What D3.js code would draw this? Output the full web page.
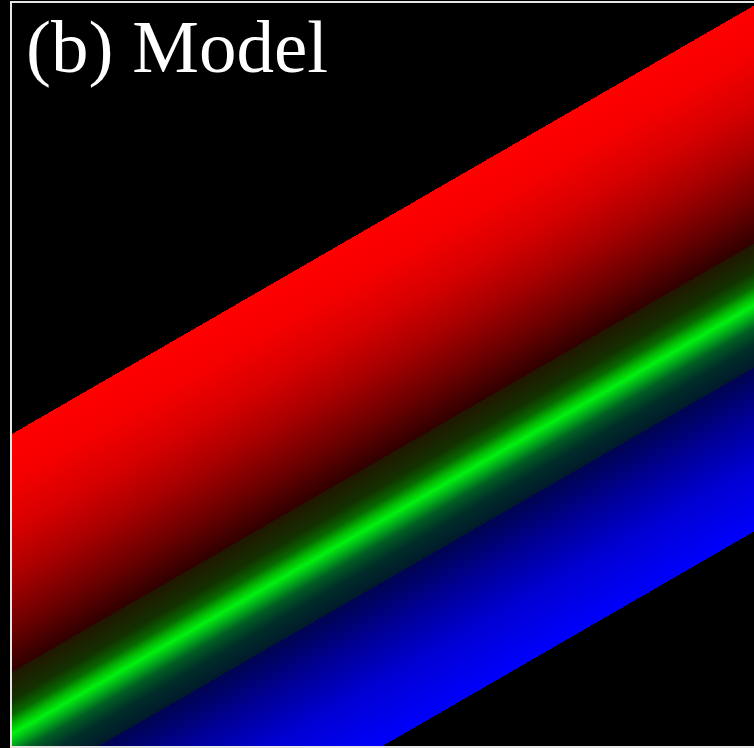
<!DOCTYPE html>
<html>
<head>
<meta charset="utf-8">
<script src="https://cdn.jsdelivr.net/npm/d3@7"></script>
<style>
  html, body { margin: 0; padding: 0; background: #000; }
  svg { display: block; }
</style>
</head>
<body>
<svg id="chart" width="754" height="748"></svg>
<script>
// Cross-band profile of the model: offset across the bands (green line = 0)
// and the red, green and blue intensity at each offset.
// Repeated offsets mark the sharp edges of a band.
const bandOffset = [-3.00, -2.54, -2.04, -1.54, -1.04, -0.62, -0.62, -0.34, -0.19, -0.09, 0.00, 0.10, 0.22, 0.40, 0.62, 0.62, 1.10, 1.60, 2.26];
const redLevel   = [  255,   245,   215,   168,   108,    48,    34,    18,     8,     3,    0,    0,    0,    0,    0,    0,    0,    0,    0];
const greenLevel = [    0,     0,     0,     0,     0,     0,    22,    50,   105,   185,  240,  175,   95,   45,   26,    4,    0,    0,    0];
const blueLevel  = [    0,     0,     0,     0,     0,     0,     0,     0,     0,     4,   15,   25,   34,   40,   44,   80,  150,  210,  252];

// Bands run at this slope (degrees above horizontal).
const bandAngle = 30;
const panelTitle = "(b) Model";

const W = 754, H = 748;
const plot = { left: 12, top: 3, right: 754, bottom: 747 };

const svg = d3.select("#chart");
const defs = svg.append("defs");

// Band offset -> vertical intercept (px) on the left edge of the plot.
const vScale = d3.scaleLinear().domain([-3.00, 2.26]).range([434, 960]);
const [u0, u1] = vScale.range();
const [v0, v1] = vScale.domain();
const offsetScale = d3.scaleLinear().domain([v0, v1]).range([0, 1]);

// Gradient axis perpendicular to the bands.
const a = bandAngle * Math.PI / 180;
const nx = Math.sin(a), ny = Math.cos(a);
const span = (u1 - u0) * Math.cos(a);
const grad = defs.append("linearGradient")
  .attr("id", "bands")
  .attr("gradientUnits", "userSpaceOnUse")
  .attr("x1", plot.left).attr("y1", u0)
  .attr("x2", plot.left + nx * span).attr("y2", u0 + ny * span);

// Black outside the outer edges of the red and blue bands.
const stops = [{ o: 0, c: "#000" }];
bandOffset.forEach((v, i) => {
  stops.push({ o: offsetScale(v), c: d3.rgb(redLevel[i], greenLevel[i], blueLevel[i]).formatHex() });
});
stops.push({ o: 1, c: "#000" });

grad.selectAll("stop").data(stops).join("stop")
  .attr("offset", d => d.o)
  .attr("stop-color", d => d.c);

defs.append("clipPath").attr("id", "plotClip")
  .append("rect")
  .attr("x", plot.left).attr("y", plot.top)
  .attr("width", plot.right - plot.left).attr("height", plot.bottom - plot.top);

svg.append("rect").attr("width", W).attr("height", H).attr("fill", "#000");

svg.append("rect")
  .attr("clip-path", "url(#plotClip)")
  .attr("x", plot.left).attr("y", plot.top)
  .attr("width", plot.right - plot.left).attr("height", plot.bottom - plot.top)
  .attr("fill", "url(#bands)");

// Panel frame
svg.append("rect")
  .attr("x", plot.left - 1).attr("y", plot.top - 1)
  .attr("width", W + 20).attr("height", plot.bottom - plot.top + 1)
  .attr("fill", "none")
  .attr("stroke", "#e6e6e6")
  .attr("stroke-width", 2);

svg.append("text")
  .attr("x", 26).attr("y", 72)
  .attr("fill", "#fff")
  .attr("font-family", "'Liberation Serif', 'Times New Roman', serif")
  .attr("font-size", 75)
  .text(panelTitle);
</script>
</body>
</html>
